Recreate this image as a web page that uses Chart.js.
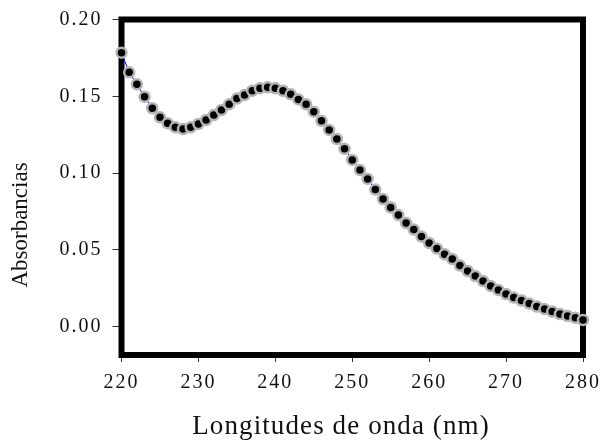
<!DOCTYPE html>
<html>
<head>
<meta charset="utf-8">
<script src="https://cdn.jsdelivr.net/npm/chart.js@4"></script>
<style>
  body { margin: 0; background: #fff; }
  #wrap { width: 600px; height: 442px; }
</style>
</head>
<body>
<div id="wrap"><canvas id="espectro" width="600" height="442"></canvas></div>
<script>
// Wavelengths (nm) and measured absorbances
const longitudes = [
    220, 221, 222, 223, 224, 225, 226, 227, 228, 229,
    230, 231, 232, 233, 234, 235, 236, 237, 238, 239,
    240, 241, 242, 243, 244, 245, 246, 247, 248, 249,
    250, 251, 252, 253, 254, 255, 256, 257, 258, 259,
    260, 261, 262, 263, 264, 265, 266, 267, 268, 269,
    270, 271, 272, 273, 274, 275, 276, 277, 278, 279,
    280
];
const absorbancias = [
    0.1784, 0.1656, 0.1578, 0.1497, 0.1422, 0.1363, 0.1324, 0.1298, 0.1287, 0.1298,
    0.1320, 0.1346, 0.1378, 0.1411, 0.1448, 0.1485, 0.1508, 0.1536, 0.1552, 0.1559,
    0.1552, 0.1536, 0.1513, 0.1480, 0.1448, 0.1400, 0.1341, 0.1281, 0.1222, 0.1158,
    0.1086, 0.1020, 0.0962, 0.0893, 0.0831, 0.0776, 0.0727, 0.0675, 0.0633, 0.0587,
    0.0545, 0.0509, 0.0472, 0.0441, 0.0398, 0.0363, 0.0330, 0.0298, 0.0265, 0.0239,
    0.0213, 0.0190, 0.0171, 0.0151, 0.0132, 0.0115, 0.0099, 0.0083, 0.0070, 0.0058,
    0.0044
];
// Tick values
const xTicks = [220, 230, 240, 250, 260, 270, 280];
const yTicks = [0.00, 0.05, 0.10, 0.15, 0.20];

const serif = '"Liberation Serif", "Times New Roman", serif';

// Thick frame around the plot + letter spacing + axis titles
const framePlugin = {
    id: 'frame',
    beforeDraw(chart) {
        chart.ctx.letterSpacing = '2px';
    },
    beforeDatasetsDraw(chart) {
        const {ctx, chartArea: a} = chart;
        ctx.save();
        ctx.lineWidth = 6;
        ctx.strokeStyle = '#000';
        ctx.strokeRect(a.left, a.top, a.right - a.left, a.bottom - a.top);
        ctx.restore();
    },
    afterDraw(chart) {
        const ctx = chart.ctx;
        ctx.save();
        ctx.fillStyle = '#111';
        ctx.textAlign = 'center';
        ctx.textBaseline = 'middle';
        // x title
        ctx.letterSpacing = '1.1px';
        ctx.font = '27px ' + serif;
        ctx.fillText('Longitudes de onda (nm)', 341, 427);
        // y title
        ctx.letterSpacing = '0px';
        ctx.font = '23px ' + serif;
        ctx.translate(21, 225);
        ctx.rotate(-Math.PI / 2);
        ctx.fillText('Absorbancias', 0, 0);
        ctx.restore();
    }
};

const ctx = document.getElementById('espectro').getContext('2d');
const chart = new Chart(ctx, {
    type: 'line',
    plugins: [framePlugin],
    data: {
        labels: longitudes,
        datasets: [{
            data: longitudes.map((x, i) => ({x: x, y: absorbancias[i]})),
            borderColor: '#0000ff',
            borderWidth: 1,
            pointRadius: 5,
            pointBorderWidth: 2.5,
            pointBackgroundColor: '#000',
            pointBorderColor: '#b4b4b4',
            clip: false,
            tension: 0
        }]
    },
    options: {
        responsive: false,
        devicePixelRatio: 1,
        animation: false,
        layout: { padding: { left: 0, top: 19.5, right: 17, bottom: 0 } },
        plugins: { legend: { display: false }, tooltip: { enabled: false } },
        scales: {
            x: {
                type: 'linear',
                min: 220,
                max: 280,
                afterBuildTicks: (scale) => { scale.ticks = xTicks.map(v => ({value: v})); },
                afterFit: (scale) => {
                    scale.height = 87;
                    scale.paddingLeft = 0;
                    scale.paddingRight = 0;
                },
                grid: { drawOnChartArea: false, drawTicks: true, tickLength: 7, tickColor: '#333', lineWidth: 1 },
                border: { display: false },
                ticks: {
                    padding: 9,
                    color: '#111',
                    maxRotation: 0,
                    font: { family: serif, size: 20 },
                    callback: (v) => String(v)
                }
            },
            y: {
                min: -0.0184,
                max: 0.20,
                afterBuildTicks: (scale) => { scale.ticks = yTicks.map(v => ({value: v})); },
                afterFit: (scale) => {
                    scale.width = 121.5;
                    scale.paddingTop = 0;
                    scale.paddingBottom = 0;
                },
                grid: { drawOnChartArea: false, drawTicks: true, tickLength: 9, tickColor: '#333', lineWidth: 1 },
                border: { display: false },
                ticks: {
                    padding: 10,
                    color: '#111',
                    font: { family: serif, size: 20 },
                    callback: (v) => v.toFixed(2)
                }
            }
        }
    }
});
</script>
</body>
</html>
